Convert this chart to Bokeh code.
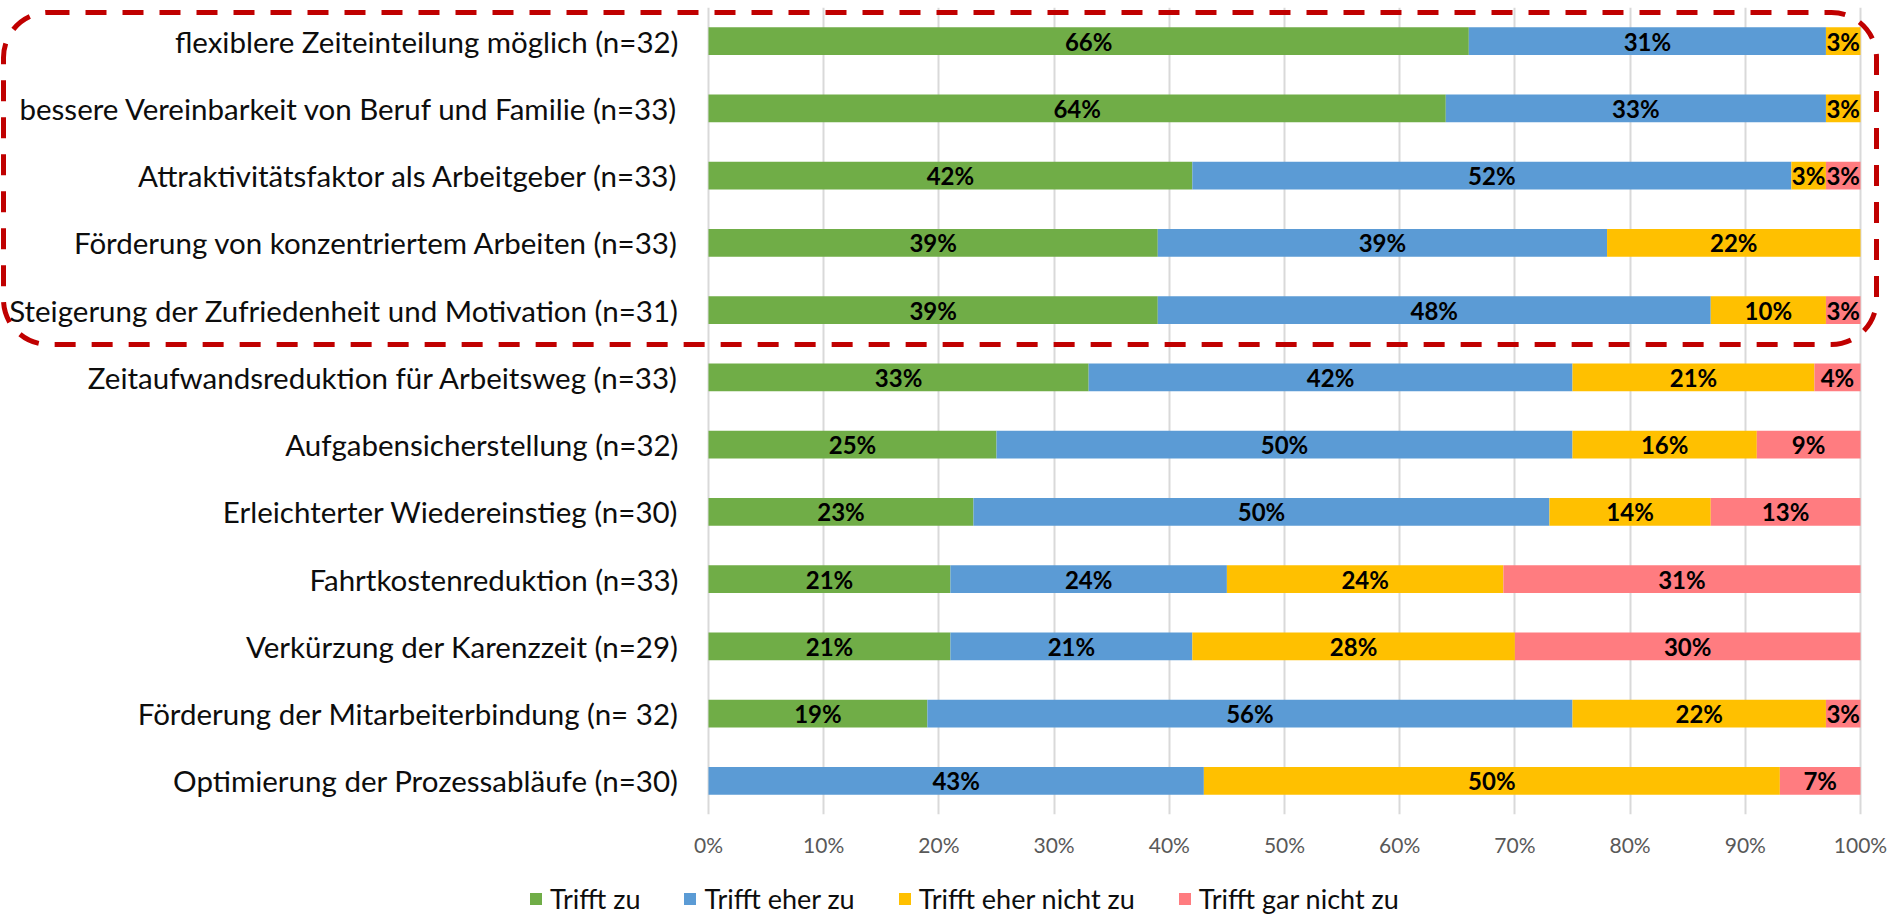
from bokeh.plotting import figure
from bokeh.layouts import column
from bokeh.models import ColumnDataSource, FactorRange, Range1d, BoxAnnotation, Legend, LegendItem
from bokeh.core.properties import value
from bokeh.embed import file_html
from bokeh.resources import INLINE

categories = [
    "flexiblere Zeiteinteilung möglich (n=32)",
    "bessere Vereinbarkeit von Beruf und Familie (n=33)",
    "Attraktivitätsfaktor als Arbeitgeber (n=33)",
    "Förderung von konzentriertem Arbeiten (n=33)",
    "Steigerung der Zufriedenheit und Motivation (n=31)",
    "Zeitaufwandsreduktion für Arbeitsweg (n=33)",
    "Aufgabensicherstellung (n=32)",
    "Erleichterter Wiedereinstieg (n=30)",
    "Fahrtkostenreduktion (n=33)",
    "Verkürzung der Karenzzeit (n=29)",
    "Förderung der Mitarbeiterbindung (n= 32)",
    "Optimierung der Prozessabläufe (n=30)",
]
trifft_zu = [66, 64, 42, 39, 39, 33, 25, 23, 21, 21, 19, 0]
trifft_eher_zu = [31, 33, 52, 39, 48, 42, 50, 50, 24, 21, 56, 43]
trifft_eher_nicht_zu = [3, 3, 3, 22, 10, 21, 16, 14, 24, 28, 22, 50]
trifft_gar_nicht_zu = [0, 0, 3, 0, 3, 4, 9, 13, 31, 30, 3, 7]

series_names = ["Trifft zu", "Trifft eher zu", "Trifft eher nicht zu", "Trifft gar nicht zu"]
series_keys = ["s0", "s1", "s2", "s3"]
colors = ["#70AD47", "#5B9BD5", "#FFC000", "#FF7C80"]
tick_values = [0, 10, 20, 30, 40, 50, 60, 70, 80, 90, 100]
tick_labels = ["0%", "10%", "20%", "30%", "40%", "50%", "60%", "70%", "80%", "90%", "100%"]

series = [trifft_zu, trifft_eher_zu, trifft_eher_nicht_zu, trifft_gar_nicht_zu]

source = ColumnDataSource(dict(cat=categories, **{k: v for k, v in zip(series_keys, series)}))

# frame spans the full width; 0% sits at 708 px, 100% at 1860 px
W = 1898
H_MAIN, H_LEG = 880, 35
px_per_pct = (1860 - 708) / 100
x_start = -708 / px_per_pct
x_end = 100 + (W - 1860) / px_per_pct

p = figure(
    width=W, height=H_MAIN,
    y_range=FactorRange(*reversed(categories), range_padding=0),
    x_range=Range1d(x_start, x_end),
    y_axis_location=None,
    output_backend="svg", toolbar_location=None,
    min_border_left=0, min_border_right=0, min_border_top=7, min_border_bottom=66,
)
p.outline_line_color = None
p.background_fill_color = "white"

renderers = p.hbar_stack(series_keys, y="cat", height=0.41, color=colors, line_color=None, source=source)

# category labels, right-aligned just left of 0%
p.text(x=[0] * len(categories), y=categories, text=categories, x_offset=-30,
       text_align="right", text_baseline="middle",
       text_font=value("Lato"), text_font_size="29.5px", text_color="#0D0D0D")

# value labels centred in each segment
lx, ly, lt = [], [], []
for i, c in enumerate(categories):
    start = 0
    for s in series:
        v = s[i]
        if v > 0:
            lx.append(start + v / 2)
            ly.append(c)
            lt.append(f"{v}%")
        start += v
p.text(x=lx, y=ly, text=lt, text_align="center", text_baseline="middle",
       text_font=value("Lato"), text_font_style="bold", text_font_size="24px", text_color="#000000")

# x axis
p.xaxis.ticker = tick_values
p.xaxis.major_label_overrides = {v: l for v, l in zip(tick_values, tick_labels)}
p.xaxis.axis_line_color = None
p.xaxis.major_tick_line_color = None
p.xaxis.major_tick_out = 0
p.xaxis.major_tick_in = 0
p.xaxis.minor_tick_line_color = None
p.xaxis.major_label_standoff = 17
p.xaxis.major_label_text_font = "Lato"
p.xaxis.major_label_text_font_size = "21px"
p.xaxis.major_label_text_color = "#595959"

p.ygrid.grid_line_color = None
p.xgrid.grid_line_color = "#D9D9D9"
p.xgrid.grid_line_width = 2
p.xgrid.ticker = tick_values

# red dashed rounded frame around the first five rows (screen units, y measured up from frame bottom at 814)
frame_bottom = H_MAIN - 66
box = BoxAnnotation(left=3, right=1876, top=frame_bottom - 12, bottom=frame_bottom - 344,
                    left_units="screen", right_units="screen", top_units="screen", bottom_units="screen",
                    fill_alpha=0, line_color="#C00000", line_alpha=1, line_width=5, line_dash="21 16",
                    border_radius=45, level="overlay")
p.add_layout(box)

# legend strip below the chart (proxy glyphs carry only the colours, no visible data)
pl = figure(width=W, height=H_LEG, x_range=(0, 1), y_range=(0, 1),
            x_axis_location=None, y_axis_location=None,
            output_backend="svg", toolbar_location=None,
            min_border_left=0, min_border_right=0, min_border_top=0, min_border_bottom=0)
pl.outline_line_color = None
pl.xgrid.grid_line_color = None
pl.ygrid.grid_line_color = None
nan = float("nan")
leg_renderers = [pl.hbar(y=[nan], right=[nan], height=0.5, color=c, line_color=None) for c in colors]

legend = Legend(
    items=[LegendItem(label=n, renderers=[r]) for n, r in zip(series_names, leg_renderers)],
    orientation="horizontal", location=(528, 0),
    glyph_width=15, glyph_height=15, label_standoff=7, spacing=42,
    padding=0, margin=0, border_line_color=None, background_fill_alpha=0,
    label_text_font="Lato", label_text_font_size="27px", label_text_color="#0D0D0D",
)
pl.add_layout(legend, "center")

layout = column(p, pl, spacing=0)
open("out.html", "w").write(file_html(layout, INLINE))
